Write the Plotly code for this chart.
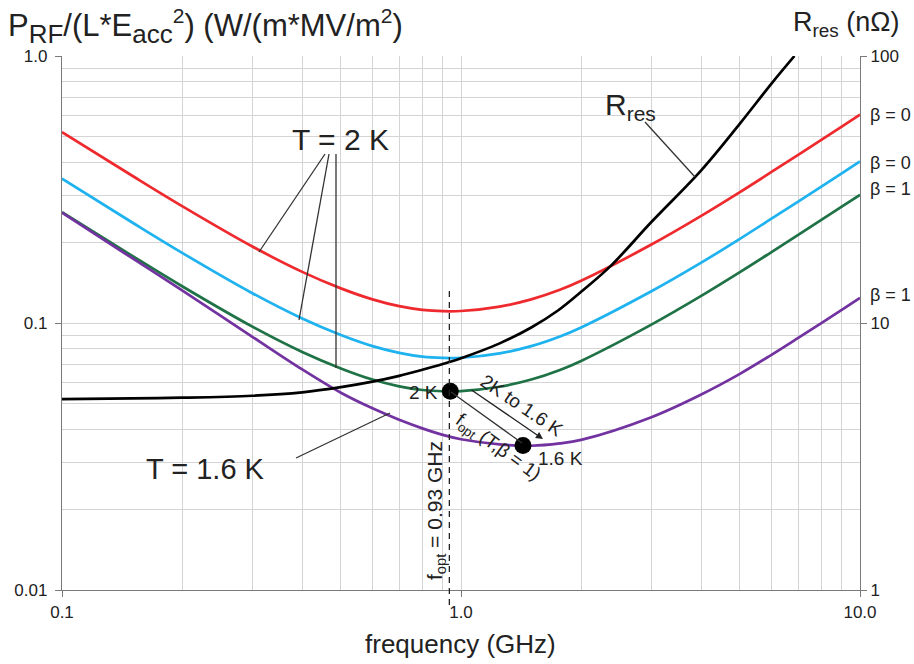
import numpy as np
import plotly.graph_objects as go

# ---------------- data ----------------
freq = [0.1, 0.15, 0.2, 0.3, 0.4, 0.5, 0.6, 0.7, 0.8, 0.9, 1.0, 1.25, 1.5, 1.77, 2, 3, 4, 5, 6, 7, 8, 9, 10]

p_red = [0.519, 0.356, 0.274, 0.1934, 0.1554, 0.1348, 0.1226, 0.1156, 0.1120, 0.1107, 0.1109, 0.1152,
         0.1226, 0.1331, 0.1439, 0.1967, 0.2519, 0.3092, 0.3678, 0.4264, 0.4853, 0.5441, 0.6027]
p_cyan = [0.3469, 0.2379, 0.1831, 0.1293, 0.1039, 0.0901, 0.0819, 0.0773, 0.0748, 0.0740, 0.0741, 0.0770,
          0.0819, 0.0890, 0.0962, 0.1315, 0.1683, 0.2066, 0.2458, 0.2850, 0.3243, 0.3636, 0.4028]
p_green = [0.2601, 0.1784, 0.1373, 0.0969, 0.0779, 0.0676, 0.0614, 0.0579, 0.0561, 0.0555, 0.0556, 0.0577,
           0.0614, 0.0667, 0.0721, 0.0986, 0.1263, 0.1550, 0.1843, 0.2137, 0.2432, 0.2727, 0.3021]
p_purple = [0.2590, 0.1748, 0.1326, 0.0888, 0.0670, 0.0548, 0.0479, 0.0434, 0.0403, 0.0381, 0.0367, 0.0351,
            0.0347, 0.0354, 0.0365, 0.0444, 0.0540, 0.0645, 0.0760, 0.0879, 0.0999, 0.1120, 0.1241]

freq_res = [0.1, 0.15, 0.2, 0.3, 0.4, 0.5, 0.6, 0.7, 0.8, 0.9, 1.0, 1.25, 1.5, 1.75, 2, 2.37, 3, 4, 5, 6, 6.85]
r_res = [5.19, 5.22, 5.25, 5.34, 5.50, 5.75, 6.03, 6.34, 6.68, 7.02, 7.38, 8.39, 9.62, 11.14, 13.09, 16.33,
         23.89, 37.31, 55.81, 78.81, 100.0]

opt_f = [0.94, 1.43]
opt_p = [0.0555, 0.0348]
f_opt_line = 0.935

x_ticks = [0.1, 1, 10]
x_ticktext = ["0.1", "1.0", "10.0"]
y_ticks = [0.01, 0.1, 1]
y_ticktext = ["0.01", "0.1", "1.0"]
y2_ticks = [1, 10, 100]
y2_ticktext = ["1", "10", "100"]
beta_labels = ["β = 0", "β = 0", "β = 1", "β = 1"]

# ---------------- style ----------------
W, H = 914, 664
ML, MR, MT, MB = 62, 54, 56, 74
PW, PH = W - ML - MR, H - MT - MB
FONT = "Liberation Sans, Arial, sans-serif"
GRID = "#d4d4d4"
AX = "#7a7a7a"
TXT = "#222222"


def px2p(px, py):
    return (px - ML) / PW, 1 - (py - MT) / PH


fig = go.Figure()

series = [
    (p_red, "#ee2a2e"),
    (p_cyan, "#1eb2ef"),
    (p_green, "#1f7245"),
    (p_purple, "#7232a0"),
]
for vals, col in series:
    fig.add_trace(go.Scatter(x=freq, y=vals, mode="lines",
                             line=dict(color=col, width=2.7, shape="spline", smoothing=1.0),
                             showlegend=False, hoverinfo="skip"))

fig.add_trace(go.Scatter(x=freq_res, y=r_res, mode="lines", yaxis="y2",
                         line=dict(color="#000000", width=2.7, shape="spline", smoothing=1.0),
                         showlegend=False, hoverinfo="skip"))

fig.add_trace(go.Scatter(x=opt_f, y=opt_p, mode="markers", marker=dict(color="black", size=17),
                         showlegend=False, hoverinfo="skip", cliponaxis=False))

minor_x = [v * d for d in (0.1, 1) for v in range(2, 10)]
minor_y = [v * d for d in (0.01, 0.1) for v in range(2, 10)]

common = dict(showline=True, linecolor=AX, linewidth=1.3, ticks="outside", ticklen=6, tickcolor=AX,
              tickfont=dict(size=17, color=TXT), zeroline=False)
fig.update_layout(
    width=W, height=H,
    margin=dict(l=ML, r=MR, t=MT, b=MB),
    paper_bgcolor="white", plot_bgcolor="white",
    font=dict(family=FONT, color=TXT),
    xaxis=dict(type="log", range=[-1, 1], tickvals=x_ticks, ticktext=x_ticktext,
               showgrid=True, gridcolor=GRID, gridwidth=1.4,
               minor=dict(tickvals=minor_x, showgrid=True, gridcolor=GRID, gridwidth=1.4, ticks=""),
               **common),
    yaxis=dict(type="log", range=[-2, 0], tickvals=y_ticks, ticktext=y_ticktext,
               showgrid=True, gridcolor=GRID, gridwidth=1.4, ticklabelstandoff=4,
               minor=dict(tickvals=minor_y, showgrid=True, gridcolor=GRID, gridwidth=1.4, ticks=""),
               **common),
    yaxis2=dict(type="log", range=[0, 2], overlaying="y", side="right", tickvals=y2_ticks, ticktext=y2_ticktext,
                showgrid=False, **common),
)

ann = []


def text(px, py, s, size, xanchor="center", yanchor="middle", angle=0):
    x, y = px2p(px, py)
    ann.append(dict(x=x, y=y, xref="paper", yref="paper", text=s, showarrow=False, xanchor=xanchor,
                    yanchor=yanchor, textangle=angle, font=dict(size=size, color=TXT, family=FONT)))


SUB = "<span style='font-size:26px'>%s</span>"
SUP = "<span style='font-size:21px'>%s</span>"
text(6, 26, "P<sub>" + SUB % "RF" + "</sub>/(L*E<sub>" + SUB % "acc" + "</sub><sup>" + SUP % "2"
     + "</sup>) (W/(m*MV/m<sup>" + SUP % "2" + "</sup>)", 31, xanchor="left")
text(846, 24, "R<sub>res</sub> (nΩ)", 27)
text(460, 644, "frequency (GHz)", 26)
text(340, 139, "T = 2 K", 30)
text(205, 469, "T = 1.6 K", 29)
text(603, 106, "R<sub>res</sub>", 30, xanchor="left")
text(423, 392, "2 K", 19)
text(560, 458, "1.6 K", 19)
text(522, 405, "2K to 1.6 K", 19, angle=34)
text(498, 448, "f<sub>opt</sub> (T,β = 1)", 19, angle=36)
text(436, 511, "f<sub>opt</sub> = 0.93 GHz", 21, angle=-90)
for lab, py in zip(beta_labels, [115, 163, 189, 295]):
    text(868, py, lab, 18, xanchor="left")

# arrow "2K to 1.6K"
tx, ty = px2p(543, 439)
ann.append(dict(x=tx, y=ty, xref="paper", yref="paper", ax=470 - 543, ay=389 - 439, axref="pixel", ayref="pixel",
                text="", showarrow=True, arrowhead=2, arrowsize=1.1, arrowwidth=1.3, arrowcolor="#222",
                standoff=0, startstandoff=0))
fig.update_layout(annotations=ann)

shapes = []


def seg(p0, p1, dash="solid", width=1.3):
    x0, y0 = px2p(*p0)
    x1, y1 = px2p(*p1)
    shapes.append(dict(type="line", xref="paper", yref="paper", x0=x0, y0=y0, x1=x1, y1=y1,
                       line=dict(color="#333", width=width, dash=dash)))


seg((325, 154), (259, 252))
seg((329, 154), (299, 320))
seg((336, 154), (336, 368))
seg((296, 458), (390, 413))
seg((645, 122), (695, 177))
seg((451, 392), (522, 443))

xl = (np.log10(f_opt_line) + 1) / 2
_, ytop = px2p(0, 291)
_, ybot = px2p(0, 607)
shapes.append(dict(type="line", xref="paper", yref="paper", x0=xl, x1=xl, y0=ytop, y1=ybot,
                   line=dict(color="#222", width=1.3, dash="6px,5px")))
fig.update_layout(shapes=shapes)

fig.write_html("out.html")
